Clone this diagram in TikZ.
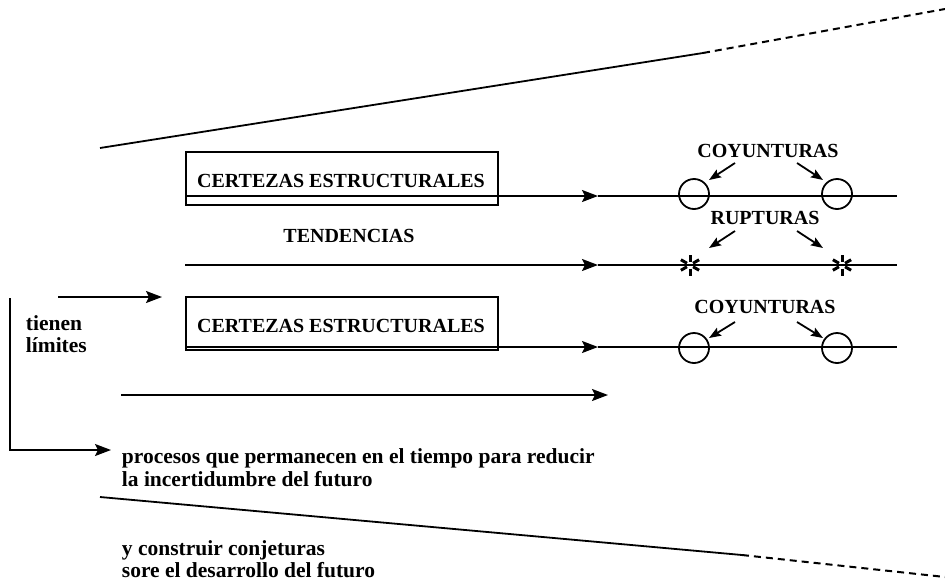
\documentclass[tikz,border=0pt]{standalone}
\usepackage{fontspec}
\setmainfont{Liberation Serif}
\usetikzlibrary{arrows.meta, calc, positioning}

\tikzset{
    >={Stealth[length=16pt,width=12pt,inset=3pt]},
    caplabel/.style={font=\fontsize{20}{23}\bfseries, inner sep=0pt, anchor=base},
    txt/.style={font=\fontsize{21.5}{23}\bfseries, inner sep=0pt, anchor=base west},
    framebox/.style={draw, rectangle, inner sep=0pt, minimum width=312pt, minimum height=53pt, anchor=north west},
    joint/.style={draw, circle, inner sep=0pt, minimum size=30pt},
    pointer/.style={-{Stealth[length=12pt,width=9pt,inset=2pt]}},
    rim/.style={line width=2pt, dash pattern=on 7pt off 5pt}
}

\begin{document}
\begin{tikzpicture}[x=1pt, y=-1pt, line width=1.8pt]
    \useasboundingbox (0,0) rectangle (945,584);

    % horizonte superior e inferior
    \coordinate (topL) at (100,148);
    \coordinate (topM) at (703,53);
    \coordinate (topR) at (945,9);
    \draw (topL) -- (topM);
    \draw[rim] (topM) -- (topR);

    \coordinate (botL) at (100,497);
    \coordinate (botM) at (742,555);
    \coordinate (botR) at (945,577);
    \draw (botL) -- (botM);
    \draw[rim] (botM) -- (botR);

    % primera linea: certezas
    \node[framebox] (cert1) at (185,151) {};
    \node[caplabel] (cert1txt) at (341,187) {CERTEZAS ESTRUCTURALES};
    \coordinate (l1s) at (185,196);
    \coordinate (l1m) at (598,196);
    \coordinate (l1e) at (897,196);
    \draw[->] (l1s) -- (l1m);
    \draw (l1m) -- (l1e);
    \node[joint] (c11) at (694,194) {};
    \node[joint] (c12) at (837,194) {};
    \node[caplabel] (coy1) at (768,157) {COYUNTURAS};
    \draw[pointer] ($(coy1.base)+(-33,6)$) -- ($(c11)+(15,-14)$);
    \draw[pointer] ($(coy1.base)+(29,6)$) -- ($(c12)+(-14,-14)$);

    % segunda linea: tendencias
    \node[caplabel] (tend) at (349,242) {TENDENCIAS};
    \coordinate (l2s) at (185,265);
    \coordinate (l2m) at (598,265);
    \coordinate (l2e) at (897,265);
    \draw[->] (l2s) -- (l2m);
    \draw (l2m) -- (l2e);
    \coordinate (ast1) at (690,265);
    \coordinate (ast2) at (842,265);
    \foreach \p in {ast1,ast2}
        \foreach \a in {30,90,...,330}
            \draw[line width=3pt] ($(\p)+(\a:3.5)$) -- ($(\p)+(\a:10.5)$);
    \node[caplabel] (rup) at (765,224) {RUPTURAS};
    \draw[pointer] ($(rup.base)+(-30,7)$) -- ($(ast1)+(19,-17)$);
    \draw[pointer] ($(rup.base)+(32,7)$) -- ($(ast2)+(-19,-17)$);

    % tercera linea: certezas
    \node[framebox] (cert2) at (185,296) {};
    \node[caplabel] (cert2txt) at (341,332) {CERTEZAS ESTRUCTURALES};
    \coordinate (l3s) at (185,347);
    \coordinate (l3m) at (598,347);
    \coordinate (l3e) at (897,347);
    \draw[->] (l3s) -- (l3m);
    \draw (l3m) -- (l3e);
    \node[joint] (c21) at (694,348) {};
    \node[joint] (c22) at (837,348) {};
    \node[caplabel] (coy2) at (765,313) {COYUNTURAS};
    \draw[pointer] ($(coy2.base)+(-30,9)$) -- ($(c21)+(15,-10)$);
    \draw[pointer] ($(coy2.base)+(32,9)$) -- ($(c22)+(-14,-10)$);

    % limites
    \coordinate (limA) at (58,297);
    \coordinate (limB) at (162,297);
    \draw[->] (limA) -- (limB);
    \node[txt] (tienen) at (25,330) {tienen};
    \node[txt] (limites) at (25,352) {límites};

    \coordinate (l4s) at (121,395);
    \coordinate (l4e) at (608,395);
    \draw[->] (l4s) -- (l4e);

    \coordinate (brTop) at (10,298);
    \coordinate (brBot) at (10,450);
    \coordinate (brTip) at (111,450);
    \draw[->] (brTop) -- (brBot) -- (brTip);

    \node[txt] (procA) at (121,463) {procesos que permanecen en el tiempo para reducir};
    \node[txt] (procB) at (121,486) {la incertidumbre del futuro};
    \node[txt] (conjA) at (121,555) {y construir conjeturas};
    \node[txt] (conjB) at (121,577) {sore el desarrollo del futuro};
\end{tikzpicture}
\end{document}
